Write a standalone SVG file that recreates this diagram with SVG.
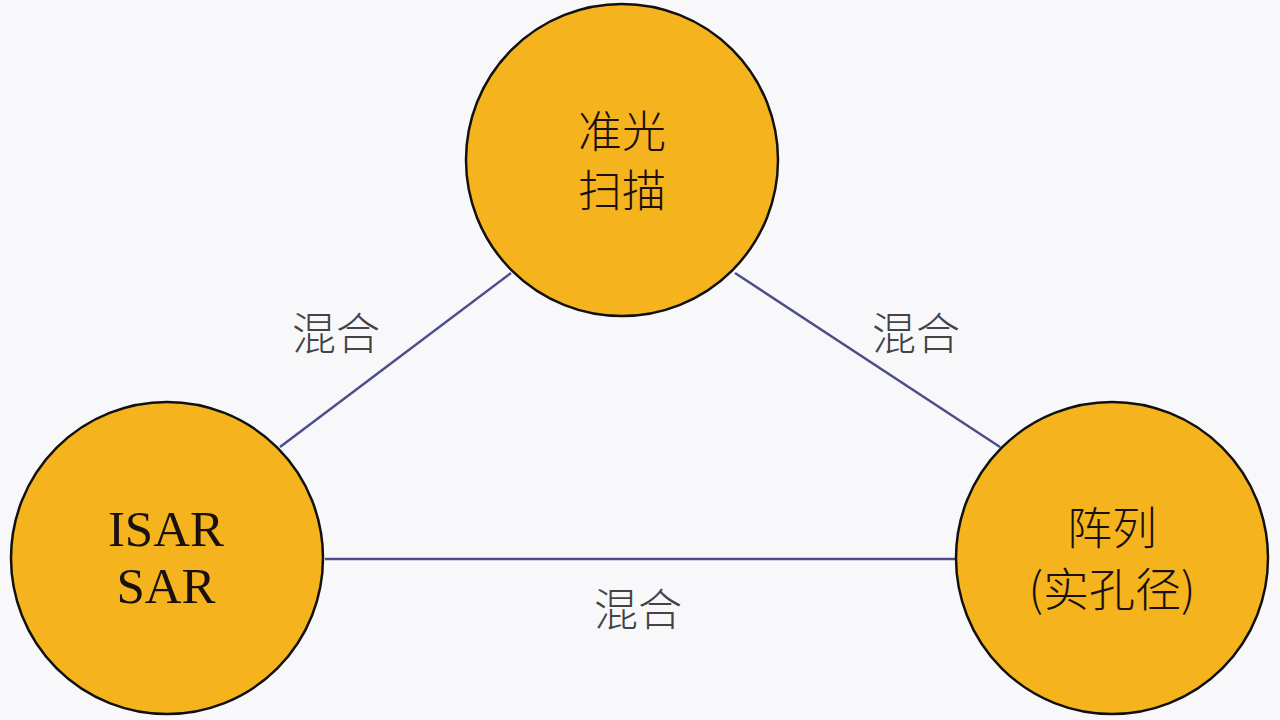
<svg xmlns="http://www.w3.org/2000/svg" width="1280" height="720" viewBox="0 0 1280 720">
<style>
.node{fill:#f5b41e;stroke:#111;stroke-width:2.5}
.t{font-family:"Liberation Serif","Noto Sans CJK SC",serif;fill:#1a1010;text-anchor:middle}
.cjk{font-family:"Noto Sans CJK SC","Liberation Serif",sans-serif;font-weight:300;fill:#1a1010;text-anchor:middle}
.lbl{font-family:"Noto Sans CJK SC",sans-serif;font-weight:300;fill:#444;text-anchor:middle;font-size:44px}
.edge{stroke:#4d4d8a;stroke-width:2.5;fill:none}
</style>
<rect width="1280" height="720" fill="#f8f8fb"/>
<g id="connectors">
<line class="edge" x1="280" y1="447" x2="511" y2="273"/>
<line class="edge" x1="735" y1="273" x2="1000" y2="447"/>
<line class="edge" x1="325" y1="559" x2="955" y2="559"/>
<text class="lbl" x="336" y="350">混合</text>
<text class="lbl" x="916" y="350">混合</text>
<text class="lbl" x="638" y="626">混合</text>
</g>
<g id="node-top">
<circle class="node" cx="622" cy="160" r="156"/>
<text class="cjk" x="622" y="148" font-size="44">准光</text>
<text class="cjk" x="622" y="207" font-size="44">扫描</text>
</g>
<g id="node-left">
<circle class="node" cx="167" cy="558" r="156"/>
<text class="t" x="166" y="546" font-size="51">ISAR</text>
<text class="t" x="166" y="603" font-size="51">SAR</text>
</g>
<g id="node-right">
<circle class="node" cx="1112" cy="558" r="156"/>
<text class="cjk" x="1112" y="545" font-size="45">阵列</text>
<text class="cjk" x="1112" y="606" font-size="46">(实孔径)</text>
</g>
</svg>
